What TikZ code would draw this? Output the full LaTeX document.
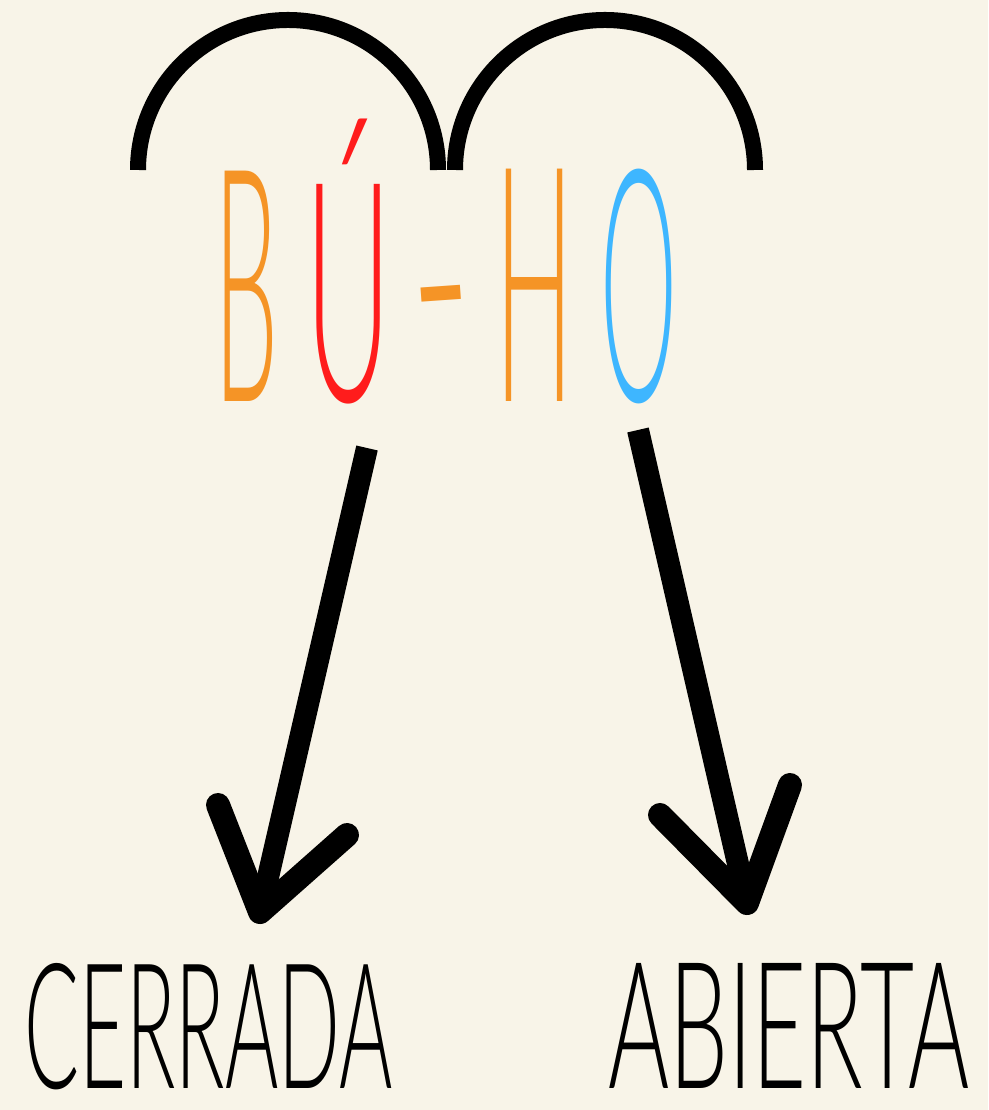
\documentclass[tikz,border=0pt]{standalone}
\usepackage{fontspec}
\setmainfont{Lato}[UprightFont={* Light}]
\usepackage{graphicx}
\definecolor{paper}{RGB}{248,244,232}
\definecolor{buorange}{RGB}{245,148,38}
\definecolor{bured}{RGB}{255,28,28}
\definecolor{hoblue}{RGB}{62,182,255}
\newcommand{\squeeze}[3]{\resizebox{#1}{#2}{#3}}

\begin{document}
\begin{tikzpicture}[x=1pt,y=1pt]
        \tikzstyle{letter} = [inner sep=0pt, anchor=base west]
        \tikzstyle{syllable} = [line width=16pt]
        \tikzstyle{arrow} = [line width=22pt]
        \tikzstyle{head} = [line width=24pt, line cap=round, line join=round]

                \fill[paper] (0,0) rectangle (988,1110);
                \useasboundingbox (0,0) rectangle (988,1110);

                % syllable arcs
                \draw[syllable] (138,940) arc (180:0:150);
                \draw[syllable] (455,940) arc (180:0:150);

                % the word
                \node (b) [letter, text=buorange] at (214,708) {\squeeze{64pt}{230pt}{B}};
                \node (u) [letter, text=bured] at (305,708) {\squeeze{86pt}{282pt}{Ú}};
                \node (dash) [inner sep=0pt, anchor=north, text=buorange] at (443,826) {\rotatebox{4}{\resizebox{58pt}{!}{\bfseries -}}};
                \node (h) [letter, text=buorange] at (495,708) {\squeeze{78pt}{232pt}{H}};
                \node (o) [letter, text=hoblue] at (600,708) {\squeeze{77pt}{232pt}{O}};

                % the results
                \node (closed) [letter] at (24,21) {\squeeze{368pt}{125pt}{CERRADA}};
                \node (open) [letter] at (608,21) {\squeeze{361pt}{125pt}{ABIERTA}};

                \coordinate (ufoot) at (367,662);
                \coordinate (utip) at (260,198);
                \coordinate (hfoot) at (638,680);
                \coordinate (htip) at (747,207);

                \draw[arrow] (ufoot) -- (utip);
                \draw[head] (218,305) -- (utip) -- (347,275);
                \draw[arrow] (hfoot) -- (htip);
                \draw[head] (660,295) -- (htip) -- (790,325);
\end{tikzpicture}
\end{document}
